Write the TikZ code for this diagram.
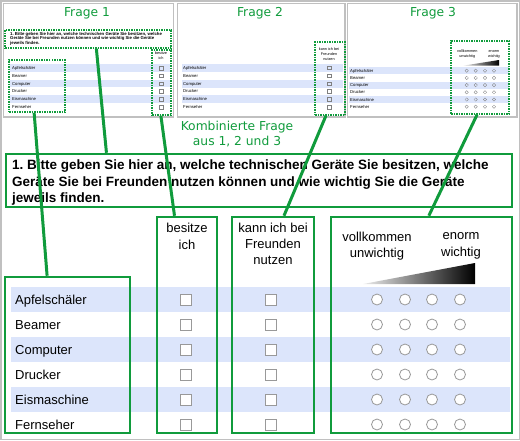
\documentclass[tikz,border=0pt]{standalone}
\usepackage{fontspec}
\setmainfont{Liberation Sans}
\newfontfamily\titlefont{DejaVu Sans}
\usepackage{tikz}
\usetikzlibrary{calc, fit, positioning}
\definecolor{mygreen}{RGB}{16,155,60}
\definecolor{myblue}{RGB}{220,229,251}
\definecolor{mygray}{RGB}{192,192,192}
\tikzstyle{panel} = [draw=mygray, line width=1.5pt]
\tikzstyle{bigbox} = [rectangle, draw=mygreen, line width=2.5pt, inner sep=0pt]
\tikzstyle{dotbox} = [rectangle, draw=mygreen, line width=1.5pt, densely dotted, inner sep=0pt]
\tikzstyle{link} = [draw=mygreen, line width=3pt]
\tikzstyle{title} = [text=mygreen, font=\titlefont\fontsize{12.3}{15}\selectfont, align=center, inner sep=0pt]
\tikzstyle{chk} = [rectangle, draw=gray!80, fill=white, minimum size=11pt, inner sep=0pt, line width=0.8pt]
\tikzstyle{radio} = [circle, draw=gray!80, fill=white, minimum size=11pt, inner sep=0pt, line width=0.8pt]
\tikzstyle{tinychk} = [rectangle, draw=gray, minimum size=3.6pt, inner sep=0pt, line width=0.3pt]
\tikzstyle{tinyradio} = [circle, draw=gray, minimum size=3.4pt, inner sep=0pt, line width=0.3pt]
\tikzstyle{lbl} = [anchor=base west, font=\fontsize{13}{16}\selectfont, inner sep=0pt]
\tikzstyle{tinylbl} = [anchor=base west, font=\fontsize{4.2}{5}\selectfont, inner sep=0pt]
\tikzstyle{head} = [align=center, font=\fontsize{13}{16.3}\selectfont, inner sep=0pt]
\tikzstyle{tinyhead} = [align=center, font=\fontsize{3.8}{5.2}\selectfont, inner sep=0pt]
\frenchspacing

\begin{document}
\begin{tikzpicture}[x=1pt, y=-1pt]
    \useasboundingbox (0,0) rectangle (520,440);
    \draw[panel] (0.75,0.75) rectangle (519.25,439.25);

    % three small questions
    \draw[panel] (3.5,3.5) rectangle (173.5,117);
    \draw[panel] (177.5,3.5) rectangle (345,117);
    \draw[panel] (347.5,3.5) rectangle (517,117);
    \node[title] (f1) at (87,13.5) {Frage 1};
    \node[title] (f2) at (260,13.5) {Frage 2};
    \node[title] (f3) at (433,13.5) {Frage 3};

    \foreach \r in {0,2,4} {
        \fill[myblue] (10,64+7.8*\r) rectangle (170,71.8+7.8*\r);
        \fill[myblue] (182,63.8+7.9*\r) rectangle (343,71.7+7.9*\r);
        \fill[myblue] (349,67.1+7.2*\r) rectangle (509,74.3+7.2*\r);
    }
    \foreach \name [count=\i from 0] in {Apfelschäler, Beamer, Computer, Drucker, Eismaschine, Fernseher} {
        \node[tinylbl] (ta\i) at (12,69.5+7.8*\i) {\name};
        \node[tinychk] (tca\i) at (161,68+7.8*\i) {};
        \node[tinylbl] (tb\i) at (183,69.2+7.9*\i) {\name};
        \node[tinychk] (tcb\i) at (329,67.7+7.9*\i) {};
        \node[tinylbl] (td\i) at (350,72.2+7.2*\i) {\name};
        \foreach \j/\x in {1/466.7,2/475.7,3/485,4/494}
            \node[tinyradio] (trd\i\j) at (\x,70.7+7.2*\i) {};
    }
    \node[anchor=north west, align=left, inner sep=0pt, font=\bfseries\fontsize{4.3}{4.6}\selectfont] (tq) at (10,32) {1. Bitte geben Sie hier an, welche technischen Geräte Sie besitzen, welche\\Geräte Sie bei Freunden nutzen können und wie wichtig Sie die Geräte\\jeweils finden.};
    \node[tinyhead] (th1) at (161,56) {besitze\\ich};
    \node[tinyhead] (th2) at (329,54) {kann ich bei\\Freunden\\nutzen};
    \node[tinyhead] (th3a) at (467.3,54.2) {vollkommen\\unwichtig};
    \node[tinyhead] (th3b) at (494,54.2) {enorm\\wichtig};
    \shade[left color=gray!15, right color=black] (463,65.7) -- (499,65.7) -- (499,60) -- cycle;

    \node[dotbox, fit={(5,30) (171,48)}] (tquest) {};
    \node[dotbox, fit={(9,60) (65,112)}] (titems) {};
    \node[dotbox, fit={(152,50) (171,115)}] (town) {};
    \node[dotbox, fit={(315,42) (345,115)}] (tfrnd) {};
    \node[dotbox, fit={(451,41) (509,114)}] (tscale) {};

    % combined question
    \node[title] (komb) at (237,134.5) {Kombinierte Frage\\aus 1, 2 und 3};
    \node[bigbox, fit={(6,154) (512,207)}] (quest) {};
    \node[anchor=north west, align=left, inner sep=0pt, font=\bfseries\fontsize{13.5}{16.3}\selectfont] (qtext) at (12,159.8) {1. Bitte geben Sie hier an, welche technischen Geräte Sie besitzen, welche\\Geräte Sie bei Freunden nutzen können und wie wichtig Sie die Geräte\\jeweils finden.};

    \foreach \r in {0,2,4}
        \fill[myblue] (11,287+25*\r) rectangle (510,312+25*\r);
    \foreach \name [count=\i from 0] in {Apfelschäler, Beamer, Computer, Drucker, Eismaschine, Fernseher} {
        \node[lbl] (item\i) at (15,304.5+25*\i) {\name};
        \node[chk] (chka\i) at (185.5,299.5+25*\i) {};
        \node[chk] (chkb\i) at (271,299.5+25*\i) {};
        \foreach \j/\x in {1/377,2/405,3/432,4/460}
            \node[radio] (rad\i\j) at (\x,299.5+25*\i) {};
    }
    \node[head] (hown) at (187,236.2) {besitze\\ich};
    \node[head] (hfrnd) at (273,243.8) {kann ich bei\\Freunden\\nutzen};
    \node[head] (hlow) at (377,245.8) {vollkommen\\unwichtig};
    \node[head] (hhigh) at (461,245.8) {enorm\\wichtig};
    \shade[left color=gray!15, right color=black] (363,284) -- (475,284) -- (475,263) -- cycle;

    \node[bigbox, fit={(5,277) (130,433)}] (items) {};
    \node[bigbox, fit={(157,217) (217,433)}] (own) {};
    \node[bigbox, fit={(232,217) (314,433)}] (frnd) {};
    \node[bigbox, fit={(331,217) (512,433)}] (scale) {};

    % links
    \draw[link] ($(titems.south west)!0.45!(titems.south east)$) -- ($(items.north west)!0.34!(items.north east)$);
    \draw[link] ($(tquest.south west)!0.55!(tquest.south east)$) -- ($(quest.north west)!0.2!(quest.north east)$);
    \draw[link] ($(town.south west)!0.47!(town.south east)$) -- ($(own.north west)!0.3!(own.north east)$);
    \draw[link] ($(tfrnd.south west)!0.37!(tfrnd.south east)$) -- ($(frnd.north west)!0.63!(frnd.north east)$);
    \draw[link] ($(tscale.south west)!0.45!(tscale.south east)$) -- ($(scale.north west)!0.54!(scale.north east)$);
\end{tikzpicture}
\end{document}
